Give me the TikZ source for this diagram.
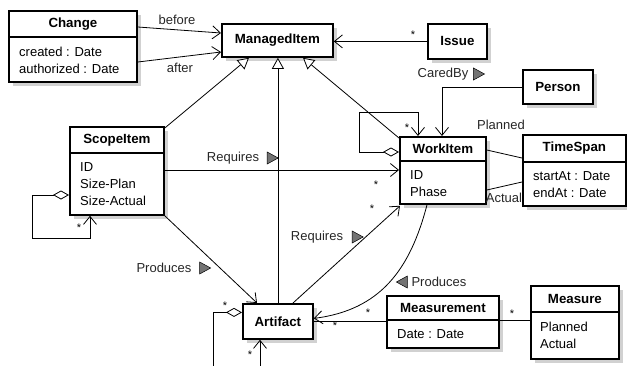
\documentclass[tikz,border=0pt]{standalone}
\usepackage{fontspec}
\setmainfont{Liberation Sans}
\usetikzlibrary{arrows.meta,calc,shadows}
\begin{document}
\begin{tikzpicture}[x=1pt,y=-1pt,font=\fontsize{13}{17}\selectfont]
\tikzset{
  cls/.style={draw, line width=1.8pt, fill=white, anchor=north west, inner sep=0pt,
    drop shadow={shadow xshift=4pt, shadow yshift=-4pt, fill=black!18, opacity=1}},
  hdr/.style={font=\fontsize{13.3}{17}\selectfont\bfseries, inner sep=0pt},
  attr/.style={align=left, anchor=west, inner sep=0pt},
  lbl/.style={inner sep=0pt, text=black!85},
  mult/.style={font=\fontsize{11}{11}\selectfont, inner sep=0pt, yshift=-2.5pt},
  divider/.style={line width=1.2pt},
  conn/.style={line width=0.8pt},
  nav/.style={conn, -{Straight Barb[length=8pt,width=13pt]}},
  gen/.style={conn, -{Triangle[open,length=11pt,width=12pt,fill=white]}},
  agg/.style={conn, {Diamond[open,length=16pt,width=9pt,fill=white]}-{Straight Barb[length=8pt,width=13pt]}},
  dirtri/.style={draw=black, fill=black!55, line width=0.5pt, line join=miter},
}
\useasboundingbox (0,0) rectangle (627,365);

% ---------- classes ----------
\node[cls, minimum width=111pt, minimum height=33pt] (mi) at (221,23) {};
\node[hdr] at (mi.center) {ManagedItem};

\node[cls, minimum width=59pt, minimum height=35pt] (issue) at (427,23) {};
\node[hdr] at (issue.center) {Issue};

\node[cls, minimum width=70pt, minimum height=34pt] (person) at (522,69) {};
\node[hdr] at (person.center) {Person};

\node[cls, minimum width=128pt, minimum height=71pt] (change) at (8,10) {};
\draw[divider] ($(change.north west)+(0,27)$) -- ($(change.north east)+(0,27)$);
\node[hdr] at ($(change.north)+(0,14)$) {Change};
\node[attr] at ($(change.north west)+(11,50)$) {created : Date\\authorized : Date};

\node[cls, minimum width=94pt, minimum height=88pt] (scope) at (69,126) {};
\draw[divider] ($(scope.north west)+(0,27)$) -- ($(scope.north east)+(0,27)$);
\node[hdr] at ($(scope.north)+(0,14)$) {ScopeItem};
\node[attr] at ($(scope.north west)+(11,58)$) {ID\\Size-Plan\\Size-Actual};

\node[cls, minimum width=86pt, minimum height=67pt] (work) at (399,136) {};
\draw[divider] ($(work.north west)+(0,25)$) -- ($(work.north east)+(0,25)$);
\node[hdr] at ($(work.north)+(0,13)$) {WorkItem};
\node[attr] at ($(work.north west)+(11,48)$) {ID\\Phase};

\node[cls, minimum width=103pt, minimum height=71pt] (ts) at (522,134) {};
\draw[divider] ($(ts.north west)+(0,28)$) -- ($(ts.north east)+(0,28)$);
\node[hdr] at ($(ts.north)+(0,14)$) {TimeSpan};
\node[attr] at ($(ts.north west)+(11,51)$) {startAt : Date\\endAt : Date};

\node[cls, minimum width=70pt, minimum height=35pt] (art) at (242,303) {};
\node[hdr] at (art.center) {Artifact};

\node[cls, minimum width=112pt, minimum height=52pt] (meas) at (386,295) {};
\draw[divider] ($(meas.north west)+(0,25)$) -- ($(meas.north east)+(0,25)$);
\node[hdr] at ($(meas.north)+(0,13)$) {Measurement};
\node[attr] at ($(meas.north west)+(11,39)$) {Date : Date};

\node[cls, minimum width=88pt, minimum height=73pt] (measure) at (530,285) {};
\draw[divider] ($(measure.north west)+(0,27)$) -- ($(measure.north east)+(0,27)$);
\node[hdr] at ($(measure.north)+(0,14)$) {Measure};
\node[attr] at ($(measure.north west)+(10,50)$) {Planned\\Actual};

% ---------- connectors ----------
% Change -> ManagedItem
\draw[nav] ($(change.north east)+(0,17)$) -- ($(mi.north west)+(0,10)$);
\draw[nav] ($(change.north east)+(0,52)$) -- ($(mi.north west)+(0,29)$);
\node[lbl] (lbefore) at (177,20) {before};
\node[lbl] (lafter) at (180,68) {after};

% Issue -> ManagedItem
\draw[nav] (issue.west) -- (issue.west -| mi.east);
\node[mult] at (413,32) {*};
\node[lbl] (lcared) at (443,74) {CaredBy};
\draw[dirtri] ($(lcared.east)+(5,-6)$) -- ++(11,6) -- ++(-11,6) -- cycle;

% generalizations
\draw[gen] ($(scope.north east)+(0,2)$) -- ($(mi.south west)+(28,0)$);
\draw[gen] (art.north) -- (art.north |- mi.south);
\draw[gen] ($(work.north west)+(0,2)$) -- ($(mi.south west)+(82,0)$);

% Person -> WorkItem
\draw[nav] (person.west) -| ($(work.north west)+(43,0)$);
\node[lbl] (lplanned) at (501,125) {Planned};

% WorkItem self loop
\draw[agg] ($(work.north west)+(0,16)$) -- ++(-40,0) |- ($(work.north west)+(19,-24)$) -- ($(work.north west)+(19,0)$);
\node[mult] at (407,125) {*};

% WorkItem -- TimeSpan
\draw[conn] ($(work.north east)+(0,14)$) -- ($(ts.north west)+(0,24)$);
\draw[conn] ($(work.north east)+(0,54)$) -- ($(ts.north west)+(0,48)$);
\node[lbl] (lactual) at (504,198) {Actual};

% ScopeItem -> WorkItem (Requires)
\coordinate (sreq) at ($(scope.north east)+(0,44)$);
\draw[nav] (sreq) -- (sreq -| work.west);
\node[lbl] (lreq1) at (233,158) {Requires};
\draw[dirtri] ($(lreq1.east)+(8,-6)$) -- ++(11,6) -- ++(-11,6) -- cycle;
\node[mult] at (376,182) {*};

% Artifact -> WorkItem (Requires)
\draw[nav] ($(art.north west)+(51,0)$) -- ($(work.south west)+(1,1)$);
\node[lbl] (lreq2) at (317,237) {Requires};
\draw[dirtri] ($(lreq2.east)+(9,-6)$) -- ++(11,6) -- ++(-11,6) -- cycle;
\node[mult] at (372,206) {*};

% ScopeItem -> Artifact (Produces)
\draw[nav] (scope.south east) -- ($(art.north west)+(15,0)$);
\node[lbl] (lprod1) at (164,268) {Produces};
\draw[dirtri] ($(lprod1.east)+(8,-6)$) -- ++(11,6) -- ++(-11,6) -- cycle;

% WorkItem -> Artifact (Produces)
\draw[nav] ($(work.south west)+(28,0)$) .. controls (410,270) and (380,310) .. ($(art.east)+(0,-3)$);
\node[lbl] (lprod2) at (439,282) {Produces};
\draw[dirtri] ($(lprod2.west)+(-4,-6)$) -- ++(-11,6) -- ++(11,6) -- cycle;
\node[mult] at (368,310) {*};

% ScopeItem self loop
\draw[agg] ($(scope.north west)+(0,69)$) -- ++(-37,0) |- ($(scope.south west)+(21,23)$) -- ($(scope.south west)+(21,0)$);
\node[mult] at (79,225) {*};

% Artifact self loop
\coordinate (loopA) at (213,368);
\coordinate (loopB) at (260,368);
\draw[conn, {Diamond[open,length=16pt,width=9pt,fill=white]}-] ($(art.west)+(0,-9)$) -- ++(-29,0) -- (loopA);
\draw[nav] (loopB) -- ($(art.south west)+(18,0)$);
\node[mult] at (225,303) {*};
\node[mult] at (250,352) {*};

% Artifact -- Measurement -- Measure
\draw[conn] (art.east) -- (art.east -| meas.west);
\node[mult] at (335,323) {*};
\coordinate (mm) at ($(meas.north east)+(0,25)$);
\draw[conn] (mm) -- (mm -| measure.west);
\node[mult] at (512,311) {*};
\end{tikzpicture}
\end{document}
